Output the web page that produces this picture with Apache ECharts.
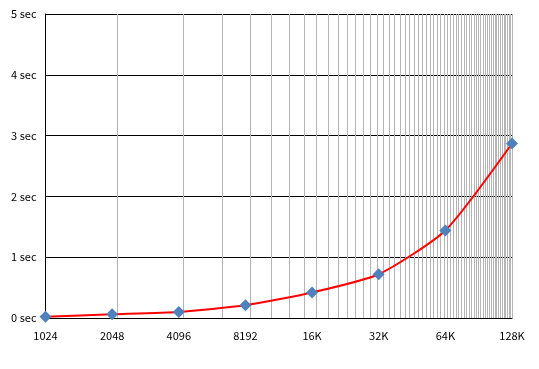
<!DOCTYPE html>
<html>
<head>
<meta charset="utf-8">
<script src="https://cdn.jsdelivr.net/npm/echarts@6/dist/echarts.min.js"></script>
<style>
html,body{margin:0;padding:0;background:#fff;}
#chart{width:539px;height:369px;}
</style>
</head>
<body>
<div id="chart"></div>
<script>
const sizes = [1024, 2048, 4096, 8192, 16384, 32768, 65536, 131072];
const sizeLabels = ['1024', '2048', '4096', '8192', '16K', '32K', '64K', '128K'];
const seconds = [0.02, 0.06, 0.10, 0.21, 0.42, 0.72, 1.44, 2.87];
const yTicks = [0, 1, 2, 3, 4, 5];

const minorStep = 131072 / 61;
const minorLines = [];
for (let v = minorStep; v <= 131072 + 1; v += minorStep) minorLines.push({ xAxis: v });

const font = "'Noto Sans CJK JP', 'Liberation Sans', sans-serif";
const chart = echarts.init(document.getElementById('chart'), null, { renderer: 'canvas' });
chart.setOption({
  animation: false,
  backgroundColor: '#ffffff',
  grid: { left: 45.5, right: 27, top: 14, bottom: 51, containLabel: false },
  xAxis: {
    type: 'log',
    logBase: 2,
    min: 1024,
    max: 131072,
    splitNumber: 7,
    axisLine: { show: true, onZero: false, lineStyle: { color: '#000', width: 1 } },
    axisTick: { show: false },
    splitLine: { show: false },
    axisLabel: {
      customValues: sizes,
      margin: 12,
      color: '#000',
      fontSize: 11,
      fontFamily: font,
      formatter: function (v) {
        const i = sizes.findIndex(s => Math.abs(s - v) / s < 1e-6);
        return i >= 0 ? sizeLabels[i] : '';
      }
    }
  },
  yAxis: {
    type: 'value',
    min: yTicks[0],
    max: yTicks[yTicks.length - 1],
    interval: 1,
    axisLine: { show: true, lineStyle: { color: '#000', width: 1 } },
    axisTick: { show: false },
    splitLine: { show: true, lineStyle: { color: '#000', width: 1 } },
    axisLabel: {
      margin: 9,
      color: '#000',
      fontSize: 11,
      fontFamily: font,
      formatter: '{value} sec'
    }
  },
  series: [
    {
      type: 'line',
      data: [],
      z: 1,
      silent: true,
      markLine: {
        silent: true,
        symbol: ['none', 'none'],
        label: { show: false },
        lineStyle: { color: '#b4b4b4', width: 1, type: 'solid' },
        emphasis: { disabled: true },
        data: minorLines
      }
    },
    {
      type: 'line',
      z: 5,
      data: sizes.map((s, i) => [s, seconds[i]]),
      smooth: 0.2,
      symbol: 'diamond',
      symbolSize: 12,
      itemStyle: { color: '#4F81BD' },
      lineStyle: { color: '#FF0000', width: 2 }
    }
  ]
});
</script>
</body>
</html>
